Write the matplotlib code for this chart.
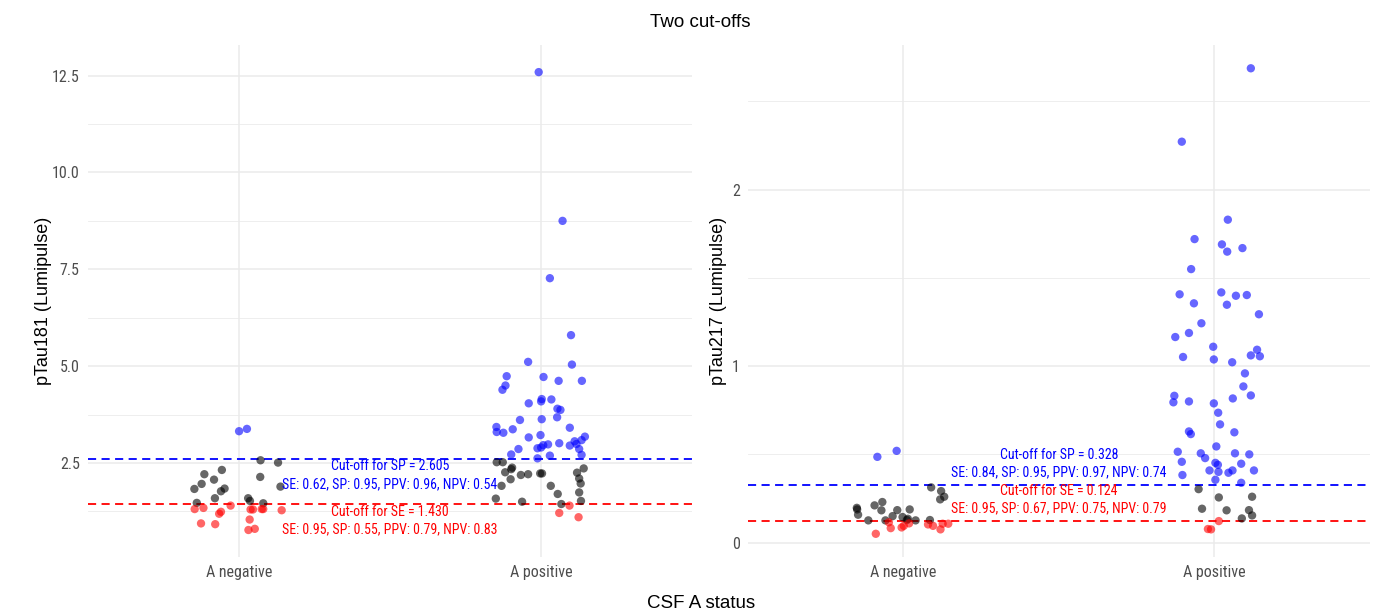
import numpy as np
import matplotlib
matplotlib.use("Agg")
import matplotlib.pyplot as plt
from matplotlib import font_manager
from matplotlib.ticker import FixedLocator

# ---------------- data ----------------
categories = ["A negative", "A positive"]

# pTau181 panel
p181_neg_y = [3.32, 3.38, 2.57, 2.51, 2.32, 2.21, 2.07, 2.14, 1.96, 1.83, 1.84, 1.77, 1.89,
              1.59, 1.47, 1.59, 1.52, 1.46, 1.31, 1.34, 1.40, 1.24, 1.19, 1.30, 1.30, 1.31,
              1.31, 1.28, 1.04, 0.94, 0.92, 0.77, 0.80]
p181_neg_jit = [0.00, 0.026, 0.071, 0.129, -0.057, -0.115, -0.083, 0.070, -0.124, -0.148,
                -0.048, -0.060, 0.137, -0.080, -0.140, 0.030, 0.036, 0.080, -0.147, -0.118,
                -0.028, -0.060, -0.066, 0.038, 0.046, 0.075, 0.080, 0.141, 0.035, -0.126,
                -0.079, 0.031, 0.052]
p181_pos_y = [12.59, 8.75, 7.27, 5.80, 5.11, 5.04, 4.74, 4.72, 4.62, 4.62, 4.50, 4.39, 4.04,
              4.15, 4.09, 4.14, 3.90, 3.87, 3.61, 3.63, 3.68, 3.43, 3.37, 3.41, 3.28, 3.30,
              3.18, 3.16, 3.22, 3.09, 3.06, 2.99, 2.95, 3.01, 2.98, 2.96, 2.90, 2.88, 2.86,
              2.86, 2.72, 2.69, 2.71, 2.62,
              2.52, 2.52, 2.38, 2.34, 2.26, 2.08, 2.19, 2.21, 2.23, 2.23, 2.36, 2.25, 2.10,
              1.97, 1.91, 1.91, 1.70, 1.74, 1.58, 1.50, 1.44, 1.52,
              1.40, 1.21, 1.10]
p181_pos_jit = [-0.008, 0.071, 0.029, 0.099, -0.043, 0.102, -0.114, 0.008, 0.058, 0.135,
                -0.118, -0.128, -0.041, 0.002, 0.000, 0.034, 0.054, 0.064, -0.070, 0.002,
                0.053, -0.148, -0.094, 0.095, -0.125, -0.147, 0.145, -0.041, -0.002, 0.134,
                0.111, 0.117, 0.095, 0.060, 0.023, 0.007, 0.000, -0.012, -0.075, 0.126,
                -0.099, 0.029, 0.134, -0.012,
                -0.147, -0.127, -0.096, -0.099, -0.119, -0.101, -0.067, -0.043, -0.003, 0.003,
                0.141, 0.119, 0.126, 0.131, -0.131, 0.032, 0.055, 0.126, -0.150, -0.063,
                0.067, 0.132,
                0.094, 0.060, 0.124]
p181_cut_sp = 2.605
p181_cut_se = 1.430
p181_sp_text = ["Cut-off for SP = 2.605", "SE: 0.62, SP: 0.95, PPV: 0.96, NPV: 0.54"]
p181_se_text = ["Cut-off for SE = 1.430", "SE: 0.95, SP: 0.55, PPV: 0.79, NPV: 0.83"]

# pTau217 panel
p217_neg_y = [0.486, 0.520, 0.313, 0.292, 0.260, 0.245, 0.197, 0.188, 0.158, 0.211, 0.230,
              0.183, 0.126, 0.184, 0.188, 0.150, 0.145, 0.135, 0.128, 0.126, 0.126, 0.128,
              0.082, 0.086, 0.095, 0.109, 0.115, 0.050, 0.103, 0.095, 0.075, 0.107, 0.107]
p217_neg_jit = [-0.084, -0.022, 0.089, 0.121, 0.131, 0.118, -0.150, -0.149, -0.146, -0.093,
                -0.068, -0.071, -0.113, -0.020, 0.020, -0.035, -0.003, 0.014, 0.011, -0.058,
                0.039, 0.085,
                -0.041, -0.006, 0.001, 0.018, -0.047, -0.089, 0.079, 0.095, 0.119, 0.126, 0.144]
p217_pos_y = [2.688, 2.272, 1.830, 1.720, 1.690, 1.649, 1.669, 1.550, 1.407, 1.418, 1.399,
              1.403, 1.356, 1.348, 1.294, 1.243, 1.188, 1.165, 1.110, 1.093, 1.061, 1.056,
              1.052, 1.038, 1.022, 0.959, 0.885, 0.834, 0.817, 0.832, 0.795, 0.800, 0.789,
              0.736, 0.670, 0.630, 0.615, 0.625, 0.545, 0.515, 0.506, 0.479, 0.506, 0.500,
              0.458, 0.452, 0.441, 0.447, 0.409, 0.401, 0.409, 0.396, 0.409, 0.383, 0.356,
              0.339,
              0.303, 0.256, 0.260, 0.192, 0.183, 0.184, 0.154, 0.137,
              0.122, 0.077, 0.075]
p217_pos_jit = [0.117, -0.105, 0.043, -0.064, 0.024, 0.041, 0.090, -0.075, -0.112, 0.022,
                0.069, 0.104, -0.066, 0.040, 0.143, -0.042, -0.082, -0.126, -0.004, 0.137,
                0.117, 0.146, -0.101, -0.002, 0.057, 0.098, 0.093, 0.117, 0.059, -0.129,
                -0.132, -0.082, -0.002, 0.012, 0.018, -0.082, -0.076, 0.064, 0.006, -0.118,
                -0.044, -0.030, 0.066, 0.112, -0.105, 0.003, 0.011, 0.086, -0.016, 0.013,
                0.058, 0.045, 0.127, -0.103, 0.003, 0.086,
                -0.051, 0.014, 0.121, -0.040, 0.039, 0.111, 0.121, 0.088,
                0.014, -0.021, -0.011]
p217_cut_sp = 0.328
p217_cut_se = 0.124
p217_sp_text = ["Cut-off for SP = 0.328", "SE: 0.84, SP: 0.95, PPV: 0.97, NPV: 0.74"]
p217_se_text = ["Cut-off for SE = 0.124", "SE: 0.95, SP: 0.67, PPV: 0.75, NPV: 0.79"]

# ---------------- style ----------------
names = {f.name for f in font_manager.fontManager.ttflist}
NARROW = "Liberation Sans"
NARROW_OK = False
for cand in ["Liberation Sans Narrow", "Roboto Condensed", "Open Sans Condensed",
             "Arial Narrow", "DejaVu Sans Condensed"]:
    if cand in names:
        NARROW = cand
        NARROW_OK = True
        break
MAIN = "Liberation Sans"
BLUE = "#0000ff"
RED = "#ff0000"
GRID = "#ebebeb"
ANN_SIZE = 10 if NARROW_OK else 8.6
TICK_SIZE = 11.5 if NARROW_OK else 10.5

fig = plt.figure(figsize=(13.76, 6.13), dpi=100)
ax1 = fig.add_axes([0.0640, 0.0918, 0.4390, 0.8348])
ax2 = fig.add_axes([0.5436, 0.0918, 0.4520, 0.8348])


def point_colors(vals, sp, se):
    out = []
    for v in vals:
        if v > sp:
            out.append(BLUE)
        elif v < se:
            out.append(RED)
        else:
            out.append("black")
    return out


def panel(ax, neg_y, neg_j, pos_y, pos_j, sp, se, sp_text, se_text, text_y,
          ylim, major, minor, ylabel, ylab_x, fmt):
    ax.set_xlim(0.5, 2.5)
    ax.set_ylim(*ylim)
    for pos, ys, js in ((1, neg_y, neg_j), (2, pos_y, pos_j)):
        xs = pos + np.asarray(js)
        ax.scatter(xs, ys, s=36, c=point_colors(ys, sp, se), alpha=0.6,
                   linewidths=0, zorder=3)
    ax.axhline(sp, color=BLUE, lw=1.3, ls=(0, (4.5, 3.0)), zorder=2)
    ax.axhline(se, color=RED, lw=1.3, ls=(0, (4.5, 3.0)), zorder=2)
    for t, yv, col in zip(sp_text + se_text, text_y, [BLUE, BLUE, RED, RED]):
        ax.text(1.5, yv, t, color=col, ha="center", va="center",
                fontsize=ANN_SIZE, family=NARROW, zorder=4)
    ax.set_xticks([1, 2])
    ax.set_xticklabels(categories)
    ax.set_yticks(major)
    ax.set_yticklabels([fmt(v) for v in major])
    ax.yaxis.set_minor_locator(FixedLocator(minor))
    ax.grid(which="major", axis="both", color=GRID, lw=1.1, zorder=0)
    ax.grid(which="minor", axis="y", color=GRID, lw=0.6, zorder=0)
    ax.set_axisbelow(True)
    for s in ax.spines.values():
        s.set_visible(False)
    ax.tick_params(which="both", length=0)
    ax.tick_params(axis="x", pad=6, labelsize=TICK_SIZE, labelcolor="#4d4d4d")
    ax.tick_params(axis="y", pad=6, labelsize=TICK_SIZE, labelcolor="#4d4d4d")
    for lab in ax.get_xticklabels() + ax.get_yticklabels():
        lab.set_family(NARROW)
    ax.set_ylabel(ylabel, fontsize=13, family=MAIN, color="black")
    ax.yaxis.set_label_coords(ylab_x, 0.5)


panel(ax1, p181_neg_y, p181_neg_jit, p181_pos_y, p181_pos_jit, p181_cut_sp, p181_cut_se,
      p181_sp_text, p181_se_text, [2.42, 1.955, 1.23, 0.80],
      (0.08, 13.29), [2.5, 5.0, 7.5, 10.0, 12.5], [1.25, 3.75, 6.25, 8.75, 11.25],
      "pTau181 (Lumipulse)", -0.059, lambda v: f"{v:.1f}")
panel(ax2, p217_neg_y, p217_neg_jit, p217_pos_y, p217_pos_jit, p217_cut_sp, p217_cut_se,
      p217_sp_text, p217_se_text, [0.494, 0.396, 0.292, 0.192],
      (-0.08, 2.82), [0, 1, 2], [0.5, 1.5, 2.5],
      "pTau217 (Lumipulse)", -0.034, lambda v: f"{v:d}")

fig.text(0.5087, 0.964, "Two cut-offs", ha="center", va="center", fontsize=13.5, family=MAIN)
fig.text(0.5094, 0.0163, "CSF A status", ha="center", va="center", fontsize=13.5, family=MAIN)

fig.savefig("out.png", dpi=100, facecolor="white")
